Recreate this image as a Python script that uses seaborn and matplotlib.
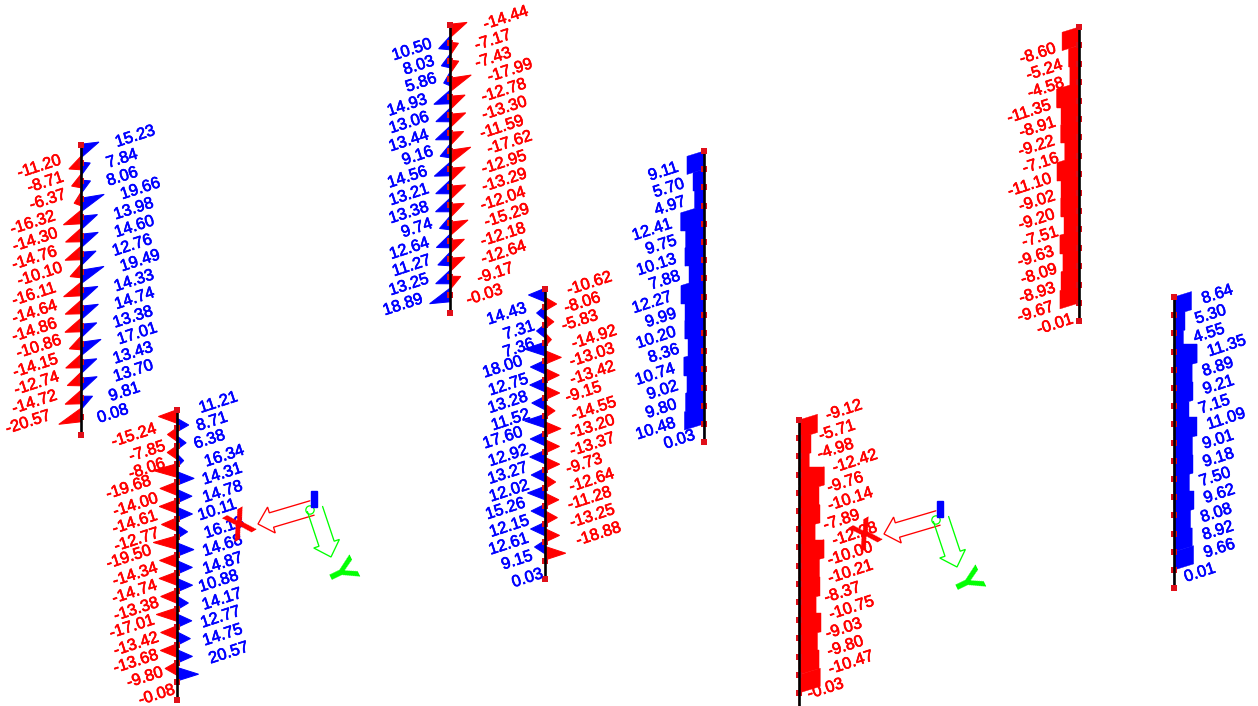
import numpy as np
import pandas as pd
import matplotlib
matplotlib.use("Agg")
import matplotlib.pyplot as plt
import matplotlib.patheffects as pe
import seaborn as sns

# ---------- values ----------
a_blue = [15.23, 7.84, 8.06, 19.66, 13.98, 14.60, 12.76, 19.49, 14.33, 14.74, 13.38, 17.01, 13.43, 13.70, 9.81, 0.08]
a_red = [-11.20, -8.71, -6.37, -16.32, -14.30, -14.76, -10.10, -16.11, -14.64, -14.86, -10.86, -14.15, -12.74, -14.72, -20.57]
b_red = [-15.24, -7.85, -8.06, -19.68, -14.00, -14.61, -12.77, -19.50, -14.34, -14.74, -13.38, -17.01, -13.42, -13.68, -9.80, -0.08]
b_blue = [11.21, 8.71, 6.38, 16.34, 14.31, 14.78, 10.11, 16.13, 14.68, 14.87, 10.88, 14.17, 12.77, 14.75, 20.57]
c_red = [-14.44, -7.17, -7.43, -17.99, -12.78, -13.30, -11.59, -17.62, -12.95, -13.29, -12.04, -15.29, -12.18, -12.64, -9.17, -0.03]
c_blue = [10.50, 8.03, 5.86, 14.93, 13.06, 13.44, 9.16, 14.56, 13.21, 13.38, 9.74, 12.64, 11.27, 13.25, 18.89]
d_blue = [14.43, 7.31, 7.36, 18.00, 12.75, 13.28, 11.52, 17.60, 12.92, 13.27, 12.02, 15.26, 12.15, 12.61, 9.15, 0.03]
d_red = [-10.62, -8.06, -5.83, -14.92, -13.03, -13.42, -9.15, -14.55, -13.20, -13.37, -9.73, -12.64, -11.28, -13.25, -18.88]
e_blue = [9.11, 5.70, 4.97, 12.41, 9.75, 10.13, 7.88, 12.27, 9.99, 10.20, 8.36, 10.74, 9.02, 9.80, 10.48, 0.03]
f_red = [-9.12, -5.71, -4.98, -12.42, -9.76, -10.14, -7.89, -12.28, -10.00, -10.21, -8.37, -10.75, -9.03, -9.80, -10.47, -0.03]
g_red = [-8.60, -5.24, -4.58, -11.35, -8.91, -9.22, -7.16, -11.10, -9.02, -9.20, -7.51, -9.63, -8.09, -8.93, -9.67, -0.01]
h_blue = [8.64, 5.30, 4.55, 11.35, 8.89, 9.21, 7.15, 11.09, 9.01, 9.18, 7.50, 9.62, 8.08, 8.92, 9.66, 0.01]

axis_names = ["X", "Y"]

# ---------- layout and style ----------
RED, BLUE, GREEN, DARK = "#ff0000", "#0000ff", "#00ff00", "#000000"
W, H = 1258, 706
FS = 11.8
ROT = 18
N_SEG = 16

sns.set_theme(style="white")
plt.rcParams["font.family"] = ["Liberation Sans", "DejaVu Sans"]
fig, ax = plt.subplots(figsize=(W / 100, H / 100), dpi=100)
ax.set_position([0, 0, 1, 1])
ax.set_xlim(0, W)
ax.set_ylim(H, 0)
ax.axis("off")


def label(x, y, val, side, color):
    t = ax.text(x, y, f"{val:.2f}", color=color, fontsize=FS, rotation=ROT, rotation_mode="anchor",
                ha="left" if side > 0 else "right", va="baseline", zorder=7)
    t.set_path_effects([pe.withStroke(linewidth=0.45, foreground=color)])


def column(x, top, step):
    ys = top + step * np.arange(N_SEG + 1)
    df = pd.DataFrame({"x": np.full(ys.size, x), "y": ys})
    sns.scatterplot(data=df, x="x", y="y", color="#e0101a", marker="s", s=16, linewidth=0, ax=ax, zorder=4, legend=False)
    sns.lineplot(data=df, x="x", y="y", color=DARK, lw=1.9, sort=False, estimator=None, ax=ax, zorder=5, legend=False)
    sns.scatterplot(data=df.iloc[[0, -1]], x="x", y="y", color="#e0101a", marker="s", s=16, linewidth=0, ax=ax, zorder=6, legend=False)


def spikes(vals, x, top, side, color, scale, first, step, skew, lab_dx, lab_dy, lab_step, base=6.8):
    """Triangles whose tip distance follows the value."""
    for i, v in enumerate(vals):
        L = abs(v) * scale
        yc = top + first + i * step
        tip_y = yc
        if skew:
            tip_y = yc + (-3 - 0.33 * L if side > 0 else 2 + 0.33 * L)
        tip_x = x + side * L
        if L > 1:
            ax.fill([x, tip_x, x], [yc - base, tip_y, yc + base], facecolor=color, edgecolor=color, lw=0.7, zorder=3)
        label(tip_x + side * lab_dx, tip_y + lab_dy + i * (lab_step - step), v, side, color)


def bars(vals, x, top, step, side, color, scale, lab_dx, lab_dy):
    """Stepped skewed blocks: one per segment, width following the value."""
    last_big = max(i for i, v in enumerate(vals) if abs(v) > 1)
    for i, v in enumerate(vals):
        L = abs(v) * scale
        y0 = top + i * step
        shear = -0.31 * L if side > 0 else 0.31 * L
        ax.fill([x, x + side * L, x + side * L, x],
                [y0, y0 + shear, y0 + step + shear, y0 + step], facecolor=color, edgecolor=color, lw=0.3, zorder=3)
        if 0 < i < last_big:  # close the notches left between neighbouring sheared blocks
            ax.fill([x, x + side * L, x + side * L, x],
                    [y0 + shear, y0 + shear, y0 + step + shear, y0 + step + shear],
                    facecolor=color, edgecolor=color, lw=0.3, zorder=3)
        label(x + side * (L + lab_dx), y0 + shear + lab_dy, v, side, color)


def outlined_arrow(start, tip, shaft, head, head_len, color):
    p0, p1 = np.array(start, float), np.array(tip, float)
    u = (p1 - p0) / np.linalg.norm(p1 - p0)
    n = np.array([-u[1], u[0]])
    neck = p1 - u * head_len
    pts = np.array([p0 + n * shaft / 2, neck + n * shaft / 2, neck + n * head / 2, p1,
                    neck - n * head / 2, neck - n * shaft / 2, p0 - n * shaft / 2])
    ax.plot(pts[:, 0], pts[:, 1], color=color, lw=0.95, zorder=5, solid_joinstyle="miter")


def triad(ox, oy):
    outlined_arrow((ox - 2, oy + 17), (ox - 56, oy + 33), 15, 27, 14, RED)
    outlined_arrow((ox + 1, oy + 18), (ox + 17, oy + 66), 16, 27, 14, GREEN)
    ax.scatter([ox - 4], [oy + 19], s=36, facecolor="none", edgecolor=GREEN, lw=0.9, zorder=5)
    ax.fill([ox - 3, ox + 3, ox + 3, ox - 3], [oy, oy, oy + 16, oy + 16], color=BLUE, zorder=6)
    ax.text(ox - 73, oy + 36, axis_names[0], color=RED, fontsize=28, fontweight="bold", rotation=30,
            ha="center", va="center", zorder=8)
    ax.text(ox + 24, oy + 81, axis_names[1], color=GREEN, fontsize=28, fontweight="bold", rotation=-64,
            ha="center", va="center", zorder=8)


# Panel A
column(81, 145, 18.1)
spikes(a_blue, 81, 145, +1, BLUE, 1.18, 6, 18, True, 18, 5, 18)
spikes(a_red, 81, 145, -1, RED, 1.08, 18, 18, True, 7, -5, 18)
# Panel B
column(177, 410, 18.1)
spikes(b_red, 177, 410, -1, RED, 1.22, 6.5, 18, False, 1, 16, 17.4)
spikes(b_blue, 177, 410, +1, BLUE, 1.05, 15, 17.8, False, 12, -12, 17.9)
# Panel C
column(450, 25, 18)
spikes(c_red, 450, 25, +1, RED, 1.18, 6, 18, True, 18, 7, 18)
spikes(c_blue, 450, 25, -1, BLUE, 1.08, 18, 18, True, 6, -1, 18)
# Panel D
column(545, 289, 18.1)
spikes(d_blue, 545, 289, -1, BLUE, 1.15, 6, 18, False, 1, 17, 17.7)
spikes(d_red, 545, 289, +1, RED, 1.1, 15, 17.8, False, 12, -9, 17.9)
# Panels E to H
column(704, 151, 18.2)
bars(e_blue, 704, 151, 18.2, -1, BLUE, 1.87, 8, 15)
column(799, 420, 18.2)
bars(f_red, 799, 420, 18.2, +1, RED, 2.03, 10, 6)
column(1079, 27, 18.4)
bars(g_red, 1079, 27, 18.4, -1, RED, 1.97, 5, 20)
column(1174, 297, 18.2)
bars(h_blue, 1174, 297, 18.2, +1, BLUE, 2.03, 12, 12)

# Axis triads
triad(314, 491)
triad(940, 501)

fig.savefig("out.png", dpi=100, facecolor="white")
